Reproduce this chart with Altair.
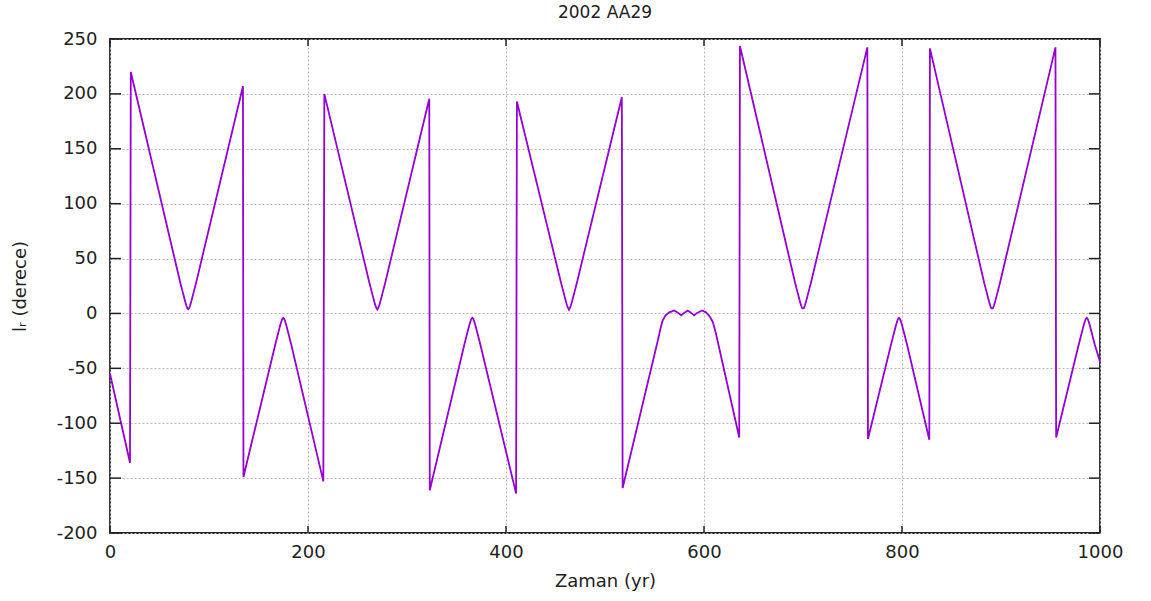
import altair as alt
import pandas as pd

# time (yr) and l_r (degrees)
t = [0, 20.2, 21,
     71, 73, 75, 76, 77, 78, 79, 80, 81, 82, 83, 85, 87,
     134.3, 134.8,
     167, 169, 171, 172, 173, 174, 175, 176, 177, 178, 179, 181, 183,
     215.5, 216.5,
     262, 264, 266, 267, 268, 269, 270, 271, 272, 273, 274, 276, 278,
     322.5, 323,
     358, 360, 362, 363, 364, 365, 366, 367, 368, 369, 370, 372, 374,
     410.2, 411,
     455.6, 457.6, 459.6, 460.6, 461.6, 462.6, 463.6, 464.6, 465.6, 466.6, 467.6, 469.6, 471.6,
     517, 517.8,
     553, 556, 558, 561, 565, 570, 574, 577, 580, 583.5, 587, 590, 593, 598, 602, 606, 609, 612,
     635.6, 636.3,
     692, 694, 696, 697, 698, 699, 700, 701, 702, 703, 704, 706, 708,
     765, 765.6,
     789, 791, 793, 794, 795, 796, 797, 798, 799, 800, 801, 803, 805,
     827.6, 828.2,
     883, 885, 887, 888, 889, 890, 891, 892, 893, 894, 895, 897, 899,
     955, 955.7,
     978.6, 980.6, 982.6, 983.6, 984.6, 985.6, 986.6, 987.6, 988.6, 989.6, 990.6, 992.6, 994.6,
     1000]
lr = [-55, -136, 220,
      28, 21, 14, 10.6, 7.5, 5, 4, 5, 7.5, 10.6, 14, 21, 28,
      207, -149,
      -28, -21, -14, -10.6, -7.5, -5, -4, -5, -7.5, -10.6, -14, -21, -28,
      -153, 200,
      28, 21, 14, 10.6, 7.5, 5, 3.5, 5, 7.5, 10.6, 14, 21, 28,
      195.5, -161,
      -28, -21, -14, -10.6, -7.5, -5, -4, -5, -7.5, -10.6, -14, -21, -28,
      -164, 193,
      28, 21, 14, 10.6, 7.5, 5, 3.3, 5, 7.5, 10.6, 14, 21, 28,
      197, -159,
      -26, -14, -7, -2, 1, 2.7, 0.5, -1.8, 0.5, 2.7, 0.5, -1.8, 0.5, 2.7, 1, -3, -8, -18,
      -113, 243.6,
      28, 21, 14, 10.6, 7.5, 5, 4.6, 5, 7.5, 10.6, 14, 21, 28,
      242.4, -114.4,
      -28, -21, -14, -10.6, -7.5, -5, -4, -5, -7.5, -10.6, -14, -21, -28,
      -115, 241.5,
      28, 21, 14, 10.6, 7.5, 5, 4.6, 5, 7.5, 10.6, 14, 21, 28,
      242.4, -113,
      -28, -21, -14, -10.6, -7.5, -5, -4, -5, -7.5, -10.6, -14, -21, -28,
      -44]

x_ticks = [0, 200, 400, 600, 800, 1000]
y_ticks = [-200, -150, -100, -50, 0, 50, 100, 150, 200, 250]

W, H = 990, 494
FONT = "DejaVu Sans"
FS = 18

df = pd.DataFrame({"t": t, "l": lr, "i": list(range(len(t)))})
xdf = pd.DataFrame({"t": x_ticks})
ydf = pd.DataFrame({"l": y_ticks})

xscale = alt.Scale(domain=[0, 1000], nice=False, zero=False)
yscale = alt.Scale(domain=[-200, 250], nice=False, zero=False)

xaxis = alt.Axis(values=x_ticks, title="Zaman (yr)", ticks=False, domain=False,
                 labelExpr="toString(datum.value)", labelFlush=False,
                 grid=True, gridColor="#b8b8b8", gridDash=[2, 2], gridWidth=1,
                 labelPadding=10, labelFontSize=FS, labelFont=FONT, labelColor="#222",
                 titleFontSize=FS, titleFont=FONT, titleFontWeight="normal", titleColor="#222",
                 titleY=48, titleBaseline="middle")
yaxis = alt.Axis(values=y_ticks, title="lᵣ (derece)", ticks=False, domain=False,
                 labelExpr="toString(datum.value)", labelFlush=False,
                 grid=True, gridColor="#b8b8b8", gridDash=[2, 2], gridWidth=1,
                 labelPadding=13, labelFontSize=FS, labelFont=FONT, labelColor="#222",
                 titleFontSize=FS, titleFont=FONT, titleFontWeight="normal", titleColor="#222",
                 titleX=-90, titleY=H / 2, titleAngle=-90, titleBaseline="middle",
                 titleAlign="center")

line = alt.Chart(df).mark_line(color="#9400D3", strokeWidth=1.8).encode(
    x=alt.X("t:Q", scale=xscale, axis=xaxis),
    y=alt.Y("l:Q", scale=yscale, axis=yaxis),
    order="i:Q",
)

tick_color = "#222"
left_ticks = alt.Chart(ydf).mark_rule(color=tick_color, strokeWidth=1.5).encode(
    x=alt.value(0), x2=alt.value(11), y=alt.Y("l:Q", scale=yscale, axis=yaxis))
right_ticks = alt.Chart(ydf).mark_rule(color=tick_color, strokeWidth=1.5).encode(
    x=alt.value(W - 11), x2=alt.value(W), y=alt.Y("l:Q", scale=yscale, axis=yaxis))
bottom_ticks = alt.Chart(xdf).mark_rule(color=tick_color, strokeWidth=1.5).encode(
    y=alt.value(H - 7), y2=alt.value(H), x=alt.X("t:Q", scale=xscale, axis=xaxis))
top_ticks = alt.Chart(xdf).mark_rule(color=tick_color, strokeWidth=1.5).encode(
    y=alt.value(0), y2=alt.value(7), x=alt.X("t:Q", scale=xscale, axis=xaxis))

chart = alt.layer(line, left_ticks, right_ticks, bottom_ticks, top_ticks).properties(
    width=W, height=H,
    title=alt.TitleParams("2002 AA29", fontSize=17, font=FONT, fontWeight="normal",
                          color="#222", offset=8, anchor="middle"),
    autosize=alt.AutoSizeParams(type="none"),
    padding={"left": 110, "top": 39, "right": 51, "bottom": 68},
    background="white",
).configure_view(stroke="#222", strokeWidth=1.8)

chart.save("out.html", embed_options={"renderer": "svg", "actions": False})
